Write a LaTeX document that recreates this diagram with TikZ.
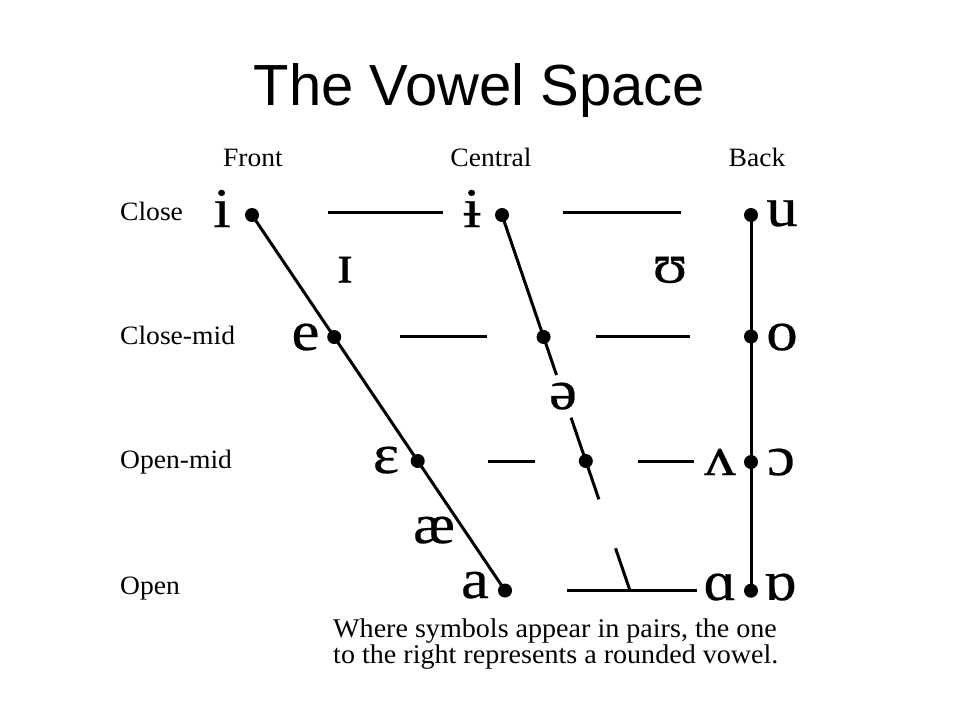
\documentclass[tikz,border=0pt]{standalone}
\usepackage{fontspec}
\setmainfont{Liberation Serif}
\newfontfamily\titlefont{Liberation Sans}
\newfontfamily\ipafont{Liberation Serif}[FakeStretch=1.12,FakeBold=0.4]
\newfontfamily\labfont{Liberation Serif}[FakeStretch=1.04]
\usetikzlibrary{calc}
\begin{document}
\begin{tikzpicture}[x=1pt,y=-1pt,
  dot/.style={circle,fill=black,inner sep=0pt,minimum size=14pt},
  vowel/.style={anchor=base,inner sep=0pt,font=\ipafont\fontsize{56}{56}\selectfont},
  lab/.style={anchor=base west,inner sep=0pt,font=\labfont\fontsize{26.5}{27}\selectfont},
  head/.style={anchor=base,inner sep=0pt,font=\labfont\fontsize{26.5}{27}\selectfont},
  note/.style={anchor=base west,inner sep=0pt,font=\labfont\fontsize{27}{27}\selectfont},
  ln/.style={line width=3pt}]
\useasboundingbox[fill=white] (0,0) rectangle (960,720);

% title
\node[anchor=base,inner sep=0pt,font=\titlefont\fontsize{58}{58}\selectfont] (title) at (479.5,105.7) {The Vowel Space};

% column headers
\node[head] (hfront) at (253,166.7) {Front};
\node[head] (hcentral) at (491,166.7) {Central};
\node[head] (hback) at (757,166.7) {Back};

% row labels
\node[lab] (rclose) at (120,220.5) {Close};
\node[lab] (rclosemid) at (120,344) {Close-mid};
\node[lab] (ropenmid) at (120,468) {Open-mid};
\node[lab] (ropen) at (120,594) {Open};

% key points
\coordinate (fc) at (252,215);
\coordinate (fo) at (505,590.5);
\coordinate (cc) at (502,215);
\coordinate (cb) at (630,590.7);
\coordinate (bc) at (751,215);
\coordinate (bcm) at (751,336.5);
\coordinate (bom) at (751,462);
\coordinate (bo) at (751,590.7);

% front line
\draw[ln] (fc) -- (fo);
% central line (broken)
\draw[ln] (cc) -- ($(cc)!0.426!(cb)$);
\draw[ln] ($(cc)!0.5395!(cb)$) -- ($(cc)!0.7567!(cb)$);
\draw[ln] ($(cc)!0.887!(cb)$) -- (cb);
% back line
\draw[ln] (bc) -- (bo);

% horizontal lines
\coordinate (h1a) at (328,212); \coordinate (h1b) at (443,212);
\coordinate (h1c) at (563,212); \coordinate (h1d) at (681,212);
\coordinate (h2a) at (400,336.5); \coordinate (h2b) at (487,336.5);
\coordinate (h2c) at (596,336.5); \coordinate (h2d) at (690,336.5);
\coordinate (h3a) at (488,461); \coordinate (h3b) at (535,461);
\coordinate (h3c) at (638,461.5); \coordinate (h3d) at (694,461.5);
\coordinate (h4a) at (567,590.7); \coordinate (h4b) at (697,590.7);
\draw[ln] (h1a) -- (h1b);
\draw[ln] (h1c) -- (h1d);
\draw[ln] (h2a) -- (h2b);
\draw[ln] (h2c) -- (h2d);
\draw[ln] (h3a) -- (h3b);
\draw[ln] (h3c) -- (h3d);
\draw[ln] (h4a) -- (h4b);

% dots
\node[dot] (d-fc) at (fc) {};
\node[dot] (d-fcm) at ($(fc)!0.325!(fo)$) {};
\node[dot] (d-fom) at ($(fc)!0.655!(fo)$) {};
\node[dot] (d-fo) at (fo) {};
\node[dot] (d-cc) at (cc) {};
\node[dot] (d-ccm) at ($(cc)!0.3247!(cb)$) {};
\node[dot] (d-com) at ($(cc)!0.6548!(cb)$) {};
\node[dot] (d-bc) at (bc) {};
\node[dot] (d-bcm) at (bcm) {};
\node[dot] (d-bom) at (bom) {};
\node[dot] (d-bo) at (bo) {};

% vowels
\node[vowel] (v-i) at (222,227) {i};
\node[vowel] (v-ibar) at (472,227) {ɨ};
\node[vowel] (v-u) at (782,226) {u};
\node[vowel] (v-I) at (345,282.5) {ɪ};
\node[vowel] (v-U) at (670,282.5) {ʊ};
\node[vowel] (v-e) at (305.5,350) {e};
\node[vowel] (v-o) at (782,350) {o};
\node[vowel] (v-schwa) at (563,409) {ə};
\node[vowel] (v-eps) at (386,473) {ɛ};
\node[vowel] (v-wedge) at (720,475) {ʌ};
\node[vowel] (v-openo) at (781,475) {ɔ};
\node[vowel] (v-ae) at (434,543) {æ};
\node[vowel] (v-a) at (475,598) {a};
\node[vowel] (v-alpha) at (720,600) {ɑ};
\node[vowel] (v-turnalpha) at (780,600) {ɒ};

% note
\node[note] (note1) at (333,637) {Where symbols appear in pairs, the one};
\node[note] (note2) at (333,663) {to the right represents a rounded vowel.};
\end{tikzpicture}
\end{document}
